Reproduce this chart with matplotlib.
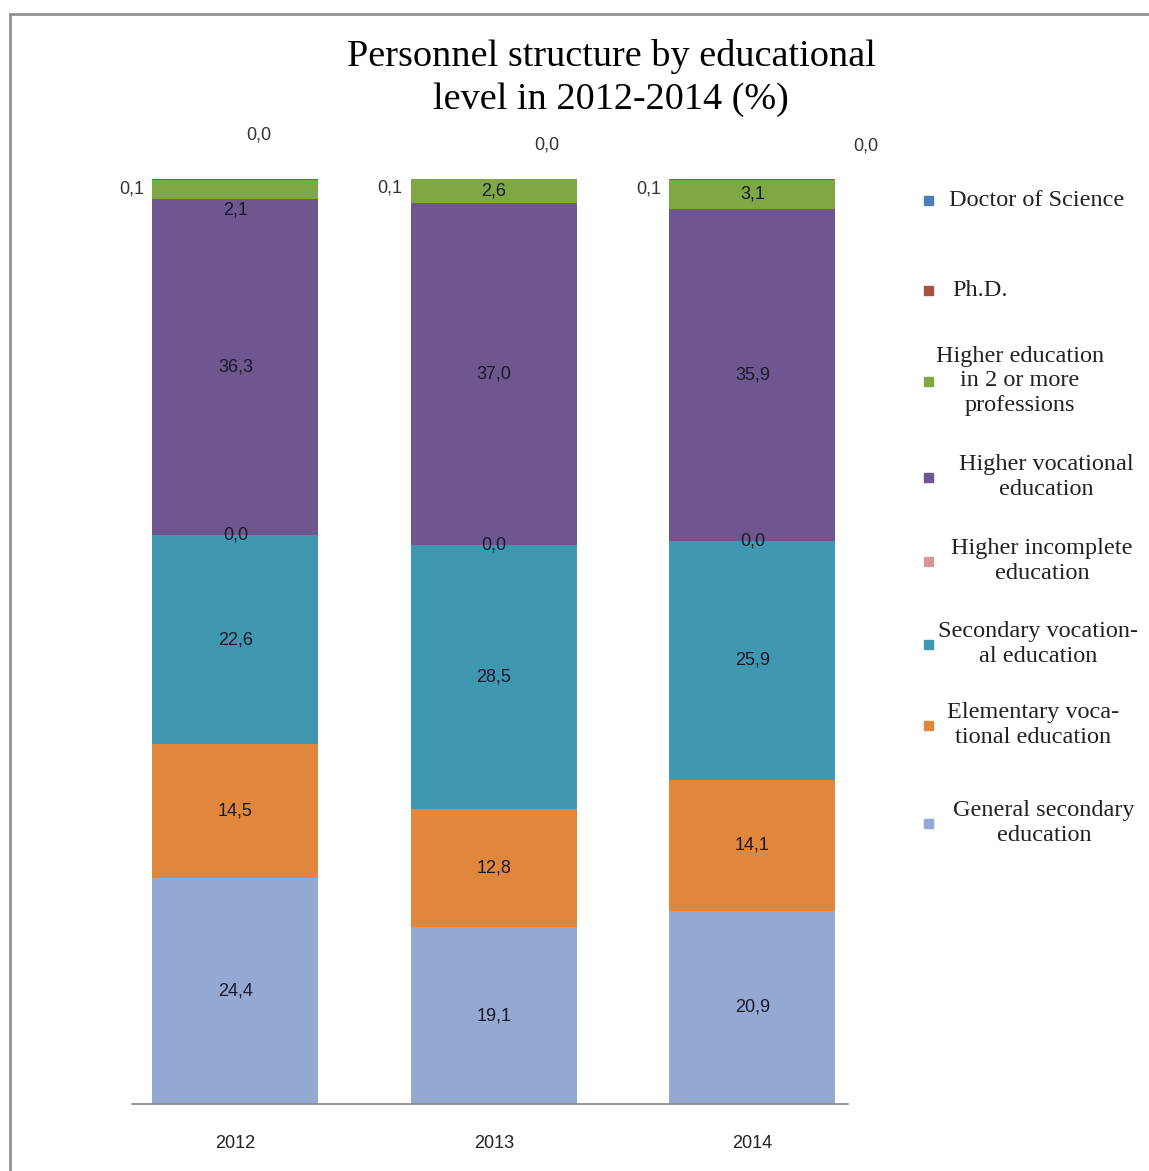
"""Personnel structure by educational level, 2012-2014 (stacked bars)"""
import numpy as np, matplotlib
matplotlib.use('Agg')
import matplotlib.pyplot as plt
import matplotlib.patches as mpatches
plt.rcParams.update({'font.family':'Liberation Sans','font.size':12})

years=['2012','2013','2014']
# stacked bottom -> top
categories=['General secondary\neducation','Elementary voca-\ntional education',
            'Secondary vocation-\nal education','Higher incomplete\neducation',
            'Higher vocational\neducation','Higher education\nin 2 or more\nprofessions',
            'Ph.D.','Doctor of Science']
general_secondary=[24.4,19.1,20.9]
elementary_voc=[14.5,12.8,14.1]
secondary_voc=[22.6,28.5,25.9]
higher_incomplete=[0.0,0.0,0.0]
higher_voc=[36.3,37.0,35.9]
higher_two=[2.1,2.6,3.1]
phd=[0.1,0.1,0.1]
doctor=[0.0,0.0,0.0]
series=[general_secondary,elementary_voc,secondary_voc,higher_incomplete,
        higher_voc,higher_two,phd,doctor]
colors=['#93A9D2','#E0873B','#3F97B0','#D99694','#6E568E','#7EA843','#A5523F','#4A7EBB']

W,H=1149,1171
fig=plt.figure(figsize=(W/100,H/100),dpi=100,facecolor='white')
ax=fig.add_axes([132/W,1-1104/H,(848-132)/W,(1104-179)/H])
x=np.arange(len(years))
bw=0.642
bottom=np.zeros(len(years))
for i,(vals,c) in enumerate(zip(series,colors)):
    v=np.array(vals)
    ax.bar(x,v,bw,bottom=bottom,color=c,edgecolor='none',zorder=2)
    for j in range(len(years)):
        lbl=f'{vals[j]:.1f}'.replace('.',',')
        yc=bottom[j]+v[j]/2
        if i==6:   # Ph.D. - label left of bar
            ax.annotate(lbl,(x[j]-bw/2,yc),xytext=(-6,-7),textcoords='offset points',
                        ha='right',va='center',color='#333',fontsize=13,annotation_clip=False)
        elif i==7: # Doctor of Science - label above
            dx=[23,53,113][j]*0.72
            dy=[44,33,33][j]*0.72
            ax.annotate(lbl,(x[j],yc),xytext=(dx,dy),textcoords='offset points',
                        ha='center',va='center',color='#333',fontsize=13,annotation_clip=False)
        else:
            off=-2.2 if (i==5 and j==0) else 0
            ax.text(x[j],yc+off,lbl,ha='center',va='center',color='#1a1a2a',fontsize=13,zorder=3)
    bottom+=v

ax.set_xlim(-0.4,2.37)
ax.set_ylim(0,100)
ax.set_xticks(x); ax.set_xticklabels(years,fontsize=13,color='#222')
ax.tick_params(axis='x',length=0,pad=22)
ax.set_yticks([])
for s in ['left','right','top']:
    ax.spines[s].set_visible(False)
ax.spines['bottom'].set_color('#888'); ax.spines['bottom'].set_linewidth(1.2)

fig.text(611/W,1-78/H,'Personnel structure by educational\nlevel in 2012-2014 (%)',
         ha='center',va='center',fontsize=27.5,family='Liberation Serif',linespacing=1.35)

# legend, top to bottom
leg_y=[200,290,381,477,561,644,725,823]
leg_x=[1037,980,1020,1046,1042,1038,1033,1044]
for k,(yy,xx) in enumerate(zip(leg_y,leg_x)):
    idx=len(categories)-1-k
    fig.patches.append(mpatches.Rectangle((924/W,1-(yy+5)/H),9/W,9/H,
                       transform=fig.transFigure,color=colors[idx]))
    fig.text(xx/W,1-yy/H,categories[idx],ha='center',va='center',fontsize=17.5,
             family='Liberation Serif',color='#222',linespacing=1.2)

# outer frame
fig.patches.append(mpatches.Rectangle((10/W,-0.05),1.2,1.05-14/H,transform=fig.transFigure,
                   fill=False,edgecolor='#909090',lw=2))
fig.savefig('out.png',dpi=100,facecolor='white')
